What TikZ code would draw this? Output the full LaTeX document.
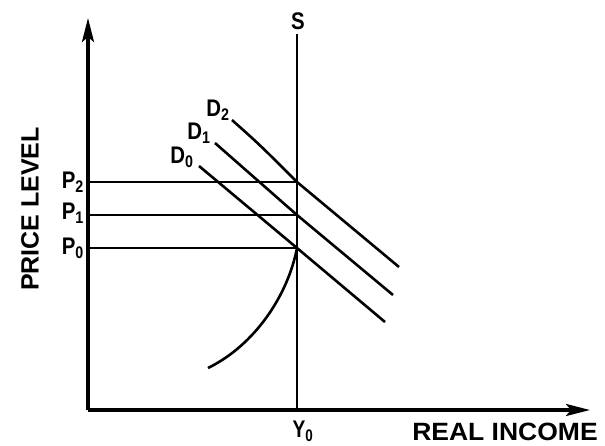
\documentclass[tikz,border=0pt]{standalone}
\usepackage{fontspec}
\setmainfont{Liberation Sans}
\usetikzlibrary{arrows.meta}
\tikzset{
  axis/.style={line width=3.2pt},
  curve/.style={line width=2.6pt},
  lbl/.style={font=\bfseries\fontsize{24}{24}\selectfont, inner sep=0pt},
  biglbl/.style={font=\bfseries\fontsize{25}{25}\selectfont, inner sep=0pt},
  guide/.style={line width=2.6pt},
  tip/.style={-{Stealth[length=24pt,width=12pt,inset=5pt]}}
}
\begin{document}
\begin{tikzpicture}[x=1pt,y=-1pt]
\useasboundingbox (0,0) rectangle (605,445);
% axes
\coordinate (O) at (88,410);
\coordinate (ytop) at (88,18);
\coordinate (xend) at (590,410);
\draw[axis,tip] (O) -- (ytop);
\draw[axis,tip] (O) -- (xend);
% vertical supply line
\coordinate (Stop) at (297,34);
\coordinate (Sbot) at (297,410);
\draw[curve] (Sbot) -- (Stop);
\node[lbl] (S) at (298,21) {\scalebox{0.85}[1]{S}};
\node[lbl] (Y0) at (303,431) {\scalebox{0.8}[1]{Y$_{\mathbf 0}$}};
\node[biglbl] (RI) at (505,432) {\scalebox{1.06}[1]{REAL INCOME}};
\node[biglbl, rotate=90] (PL) at (30,209) {PRICE LEVEL};
% price levels
\coordinate (E2) at (297,182);
\coordinate (E1) at (297,215);
\coordinate (E0) at (297,248);
\coordinate (A2) at (88,182);
\coordinate (A1) at (88,215);
\coordinate (A0) at (88,248);
\draw[guide] (A2) -- (E2);
\draw[guide] (A1) -- (E1);
\draw[guide] (A0) -- (E0);
\node[lbl, anchor=east] (P2) at (84,182) {\scalebox{0.85}[1]{P$_{\mathbf 2}$}};
\node[lbl, anchor=east] (P1) at (84,213) {\scalebox{0.85}[1]{P$_{\mathbf 1}$}};
\node[lbl, anchor=east] (P0) at (84,248) {\scalebox{0.85}[1]{P$_{\mathbf 0}$}};
% demand curves
\coordinate (d2s) at (232,120);
\coordinate (d2e) at (399,267);
\coordinate (d1s) at (215,143);
\coordinate (d1e) at (393,295);
\coordinate (d0s) at (199,166);
\coordinate (d0e) at (385,322);
\draw[curve] (d2s) .. controls (260,145) .. (E2) -- (d2e);
\draw[curve] (d1s) -- (E1) -- (d1e);
\draw[curve] (d0s) -- (E0) -- (d0e);
\node[lbl] (D2) at (218,110) {\scalebox{0.85}[1]{D$_{\mathbf 2}$}};
\node[lbl] (D1) at (199,133) {\scalebox{0.85}[1]{D$_{\mathbf 1}$}};
\node[lbl] (D0) at (182,157) {\scalebox{0.85}[1]{D$_{\mathbf 0}$}};
% short-run supply curve
\coordinate (srs) at (208,368);
\draw[curve] (srs) .. controls (255,345) and (288,295) .. (E0);
\end{tikzpicture}
\end{document}
